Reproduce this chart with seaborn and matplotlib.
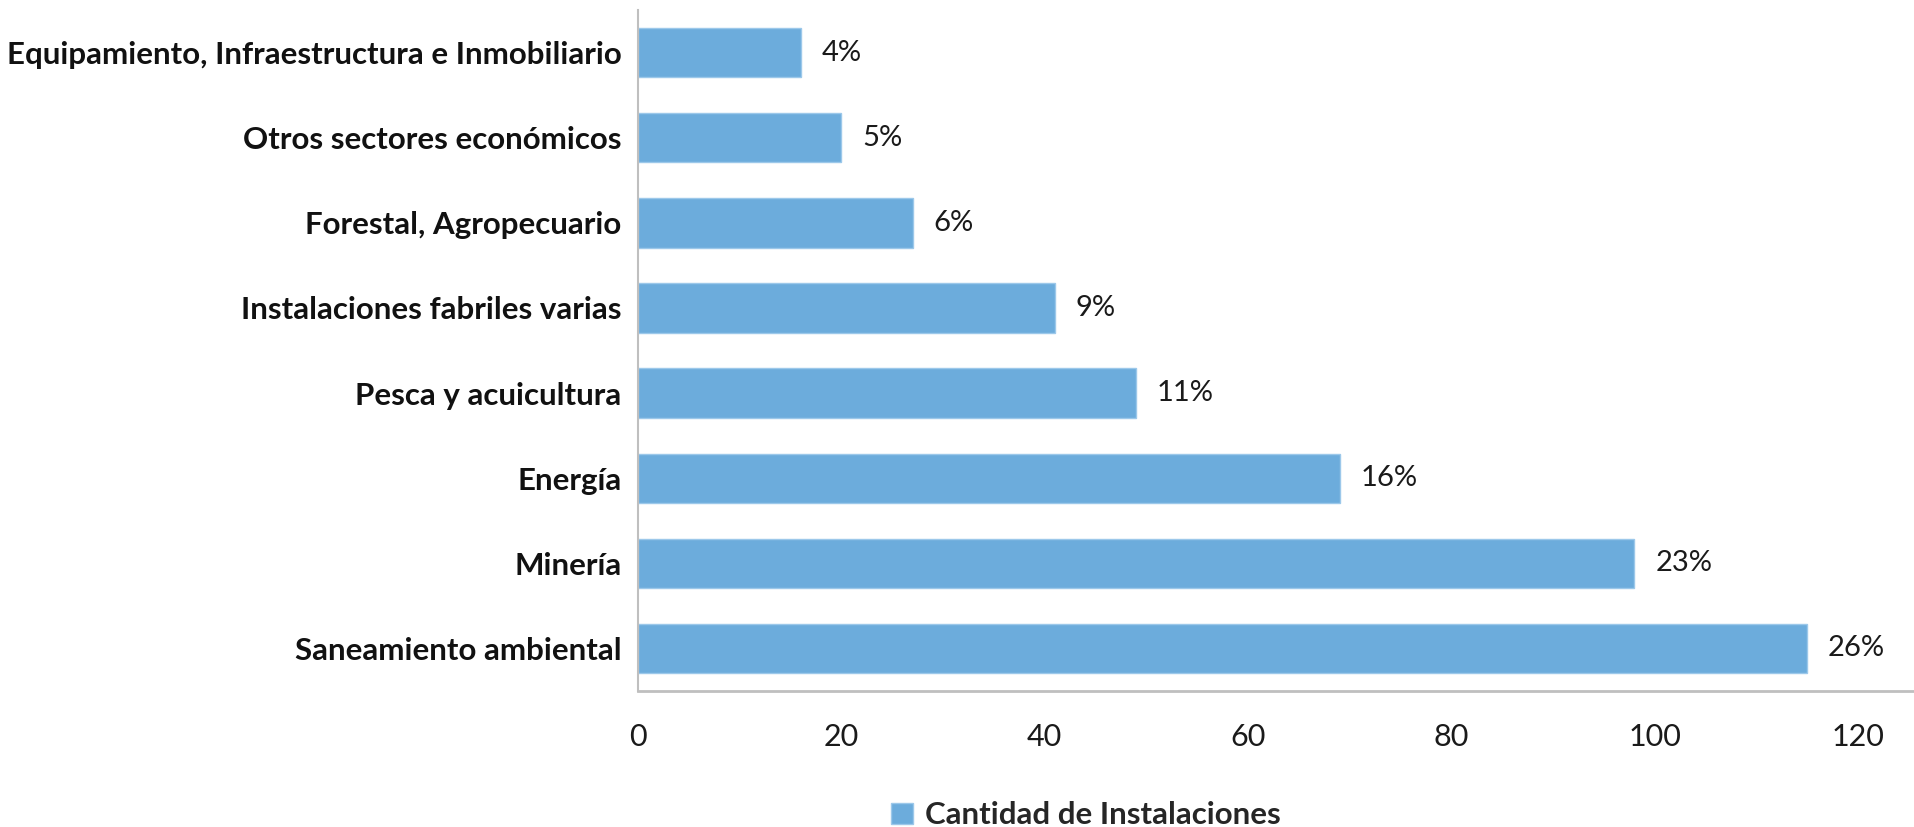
import matplotlib
matplotlib.use("Agg")
import matplotlib.pyplot as plt
import seaborn as sns

categories = [
    "Equipamiento, Infraestructura e Inmobiliario",
    "Otros sectores económicos",
    "Forestal, Agropecuario",
    "Instalaciones fabriles varias",
    "Pesca y acuicultura",
    "Energía",
    "Minería",
    "Saneamiento ambiental",
]
cantidad = [16, 20, 27, 41, 49, 69, 98, 115]
porcentaje = ["4%", "5%", "6%", "9%", "11%", "16%", "23%", "26%"]
xticks = [0, 20, 40, 60, 80, 100, 120]
serie = "Cantidad de Instalaciones"

bar_color = "#6CACDC"

sns.set_style("white")
plt.rcParams["font.family"] = ["Lato", "DejaVu Sans"]

fig = plt.figure(figsize=(19.15, 8.27), dpi=100)
ax = fig.add_axes([0.3332, 0.1644, 0.6668, 0.8235])

sns.barplot(x=cantidad, y=categories, orient="h", color=bar_color,
            width=0.58, saturation=1, ax=ax, label=serie,
            edgecolor="#9CC8EA", linewidth=1)
if ax.get_legend() is not None:
    ax.get_legend().remove()

ax.bar_label(ax.containers[0], labels=porcentaje, padding=15,
             fontsize=21, color="#1a1a1a")

ax.set_xlim(0, 125.6)
ax.set_ylim(7.5, -0.5)
ax.set_xticks(xticks)
ax.tick_params(axis="x", length=0, pad=23, labelsize=22, colors="#1a1a1a")
ax.tick_params(axis="y", length=0, pad=12, labelsize=22.5)
for lbl in ax.get_yticklabels():
    lbl.set_fontweight("bold")
    lbl.set_color("#111111")
ax.set_xlabel("")
ax.set_ylabel("")

for side in ["top", "right"]:
    ax.spines[side].set_visible(False)
ax.spines["left"].set_color("#BFBFBF")
ax.spines["bottom"].set_color("#BFBFBF")
ax.spines["left"].set_linewidth(1.5)
ax.spines["bottom"].set_linewidth(2)

handles, labels = ax.get_legend_handles_labels()
fig.legend(handles[:1], labels[:1], loc="center", bbox_to_anchor=(0.567, 0.014),
           frameon=False, handlelength=0.7, handleheight=0.7, handletextpad=0.4,
           prop={"weight": "bold", "size": 22.5})

fig.savefig("out.png", dpi=100)
